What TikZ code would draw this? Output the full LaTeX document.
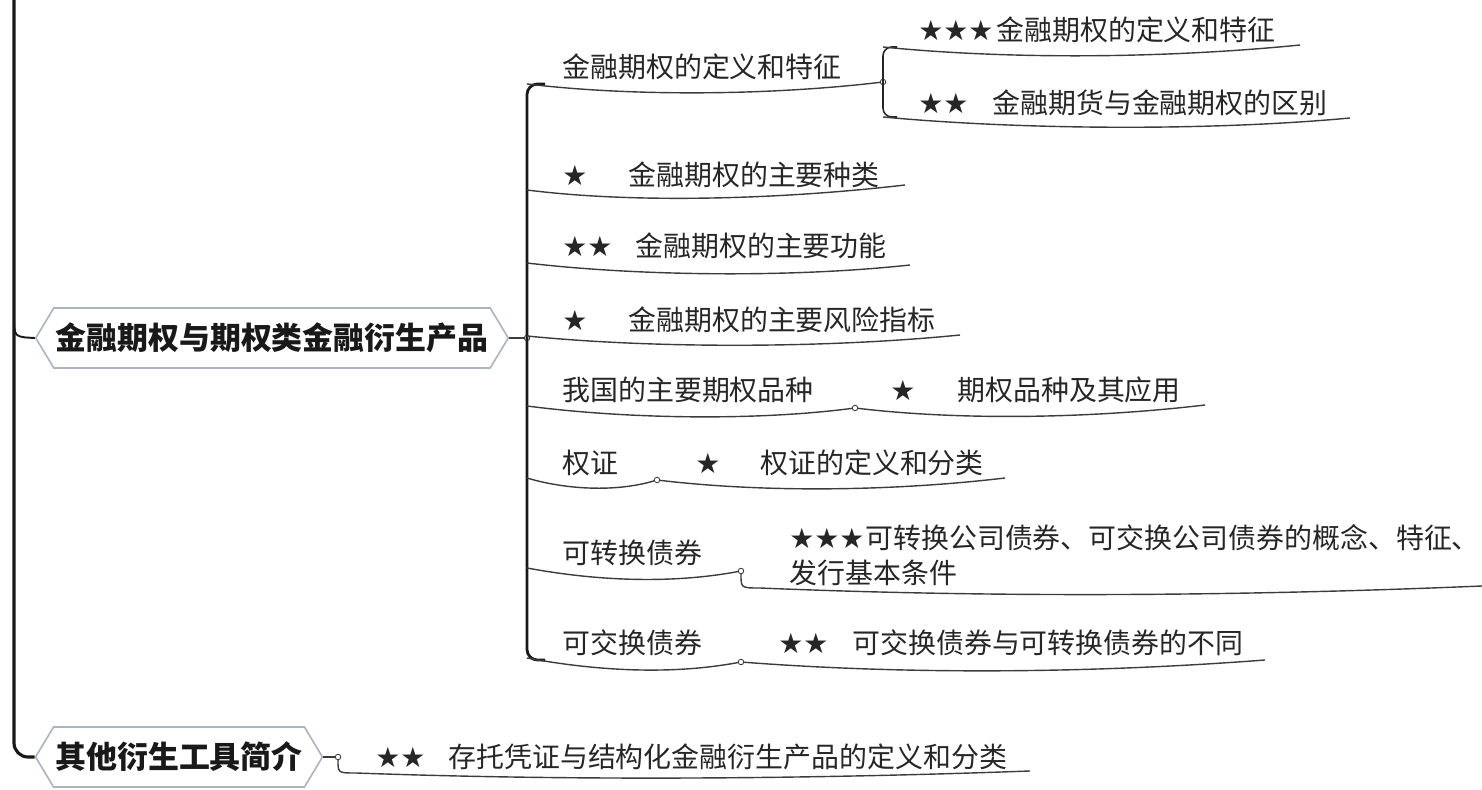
\documentclass[tikz,border=0pt]{standalone}
\usepackage{fontspec}
\setmainfont{Noto Sans CJK SC}
\newfontfamily\starfont{DejaVu Sans}
\usepackage{tikz}
\usetikzlibrary{shapes.symbols}

\definecolor{topicline}{RGB}{168,180,194}
\definecolor{inkgray}{RGB}{60,60,60}
\newcommand{\rate}[2]{\makebox[#1][l]{\starfont #2}}

\begin{document}
\begin{tikzpicture}[x=0.02cm, y=-0.02cm,
  trunk/.style={line width=1.8pt, black!90},
  brace/.style={line width=1.6pt, black!90, rounded corners=6pt},
  subbrace/.style={line width=0.9pt, black!85, rounded corners=5pt},
  uline/.style={line width=0.8pt, inkgray},
  knot/.style={circle, draw=inkgray, fill=white, line width=0.5pt, inner sep=0pt, minimum size=0.11cm},
  topic/.style={shape=signal, signal to=west and east, signal pointer angle=118, draw=topicline, fill=white, line width=0.9pt, minimum height=1.2cm, inner xsep=1pt, text=black!90, font=\bfseries\fontsize{17.6}{20}\selectfont},
  leaf/.style={anchor=west, inner sep=0pt, text=black!85, font=\fontsize{15.9}{19.8}\selectfont}]
  \useasboundingbox (0,0) rectangle (1482,790);

  % topics
  \node[topic] (opt) at (272,338) {金融期权与期权类金融衍生产品};
  \node[topic] (other) at (179,757) {其他衍生工具简介};

  % trunk
  \draw[trunk, rounded corners=8pt] (14,-5) |- (other.west);
  \draw[trunk, line width=1.1pt] (14,316) .. controls (14,337) .. (opt.west);

  % knots
  \node[knot] (kOpt) at (527,338) {};
  \node[knot] (kDef) at (883,82) {};
  \node[knot] (kVar) at (855,408) {};
  \node[knot] (kWarr) at (657,480) {};
  \node[knot] (kConv) at (741,571) {};
  \node[knot] (kExch) at (741,662) {};
  \node[knot] (kOther) at (338,757) {};

  % branch texts
  \node[leaf] (def) at (562,67) {金融期权的定义和特征};
  \node[leaf] (defA) at (918,30) {\rate{1.56cm}{★★★}金融期权的定义和特征};
  \node[leaf] (defB) at (918,103) {\rate{1.48cm}{★★}金融期货与金融期权的区别};
  \node[leaf] (kind) at (562,175) {\rate{1.32cm}{★}金融期权的主要种类};
  \node[leaf] (func) at (562,246) {\rate{1.46cm}{★★}金融期权的主要功能};
  \node[leaf] (risk) at (562,320) {\rate{1.32cm}{★}金融期权的主要风险指标};
  \node[leaf] (var) at (562,390) {我国的主要期权品种};
  \node[leaf] (varA) at (890,390) {\rate{1.34cm}{★}期权品种及其应用};
  \node[leaf] (warr) at (562,463) {权证};
  \node[leaf] (warrA) at (695,463) {\rate{1.3cm}{★}权证的定义和分类};
  \node[leaf] (conv) at (562,553) {可转换债券};
  \node[leaf, align=left] (convA) at (789,555) {\rate{1.52cm}{★★★}可转换公司债券、可交换公司债券的概念、特征、\\发行基本条件};
  \node[leaf] (exch) at (562,643) {可交换债券};
  \node[leaf] (exchA) at (778,643) {\rate{1.48cm}{★★}可交换债券与可转换债券的不同};
  \node[leaf] (otherA) at (375,757) {\rate{1.46cm}{★★}存托凭证与结构化金融衍生产品的定义和分类};

  % ends of the underlines
  \coordinate (sDef) at (527,84);
  \coordinate (sKind) at (527,190);
  \coordinate (sFunc) at (527,263);
  \coordinate (sRisk) at (527,336);
  \coordinate (sVar) at (527,406);
  \coordinate (sWarr) at (527,478);
  \coordinate (sConv) at (527,568);
  \coordinate (sExch) at (527,658);
  \coordinate (eDefA) at (1300,45);
  \coordinate (eDefB) at (1350,118);
  \coordinate (eKind) at (905,185);
  \coordinate (eFunc) at (910,265);
  \coordinate (eRisk) at (960,335);
  \coordinate (eVar) at (1205,405);
  \coordinate (eWarr) at (1005,478);
  \coordinate (eConv) at (1482,586);
  \coordinate (eExch) at (1265,660);
  \coordinate (eOther) at (1030,771);

  % brackets
  \draw[brace] (545,84) -| (527,660) -- (545,660);
  \draw[subbrace] (897,47) -| (883,117) -- (897,117);

  % underlines
  \draw[uline] (opt.east) -- (kOpt);
  \draw[uline] (sDef) .. controls +(110,13) and +(-110,13) .. (kDef);
  \draw[uline] (883,47) .. controls +(130,13) and +(-130,13) .. (eDefA);
  \draw[uline] (883,117) .. controls +(140,13) and +(-140,13) .. (eDefB);
  \draw[uline] (sKind) .. controls +(110,14) and +(-120,14) .. (eKind);
  \draw[uline] (sFunc) .. controls +(110,13) and +(-120,13) .. (eFunc);
  \draw[uline] (sRisk) .. controls +(130,13) and +(-130,13) .. (eRisk);
  \draw[uline] (sVar) .. controls +(100,13) and +(-100,13) .. (kVar);
  \draw[uline] (kVar) .. controls +(110,13) and +(-110,13) .. (eVar);
  \draw[uline] (sWarr) .. controls +(40,12) and +(-40,12) .. (kWarr);
  \draw[uline] (kWarr) .. controls +(110,13) and +(-110,13) .. (eWarr);
  \draw[uline] (sConv) .. controls +(70,13) and +(-70,13) .. (kConv);
  \draw[uline] (kConv) .. controls +(0,17) .. (760,588)
    .. controls +(240,10) and +(-240,10) .. (eConv);
  \draw[uline] (sExch) .. controls +(70,13) and +(-70,13) .. (kExch);
  \draw[uline] (kExch) .. controls +(170,13) and +(-170,13) .. (eExch);
  \draw[uline] (other.east) -- (kOther);
  \draw[uline] (kOther) .. controls +(0,16) .. (356,773)
    .. controls +(220,8) and +(-220,8) .. (eOther);
\end{tikzpicture}
\end{document}
